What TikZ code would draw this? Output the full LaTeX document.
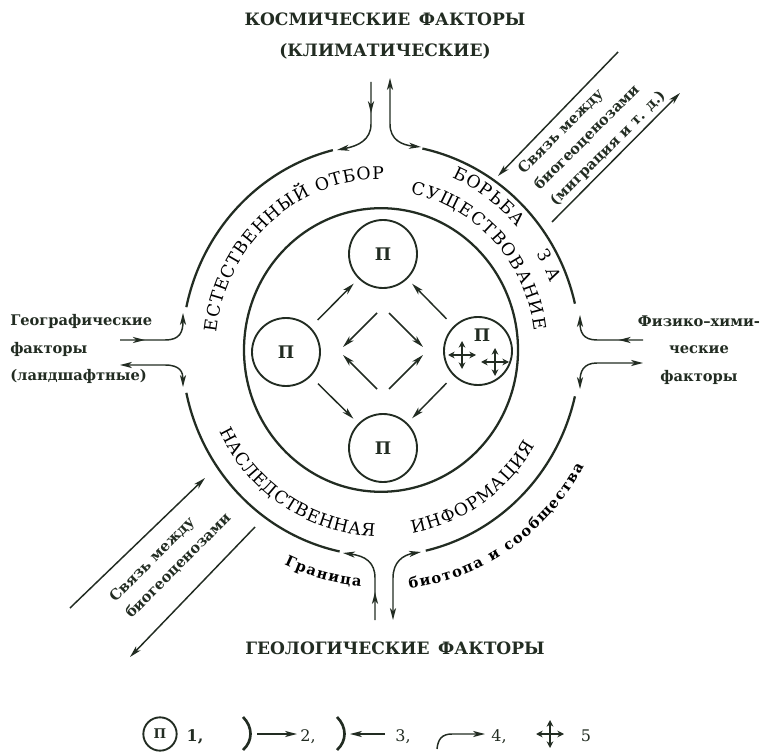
\documentclass[tikz,border=0pt]{standalone}
\usepackage{fontspec}
\setmainfont{DejaVu Serif}
\usetikzlibrary{arrows.meta,decorations.text,decorations.markings,calc}

\definecolor{ink}{RGB}{34,44,34}
\newcommand{\ringfont}{\fontsize{13}{15}\selectfont}
\newcommand{\randfont}{\bfseries\fontsize{11}{13}\selectfont}

\tikzset{
  pil/.style={-{Stealth[length=9pt,width=4.6pt,inset=2.5pt]}, line width=1.1pt},
  dpil/.style={{Stealth[length=9pt,width=4.6pt,inset=2.5pt]}-{Stealth[length=9pt,width=4.6pt,inset=2.5pt]}, line width=1.1pt},
  midpil/.style={postaction={decorate}, decoration={markings, mark=at position #1 with {\arrow{Stealth[length=9pt,width=4.6pt,inset=2.5pt]}}}},
  korspil/.style={-{Stealth[length=5pt,width=5pt]}, line width=1.6pt},
  ring/.style={line width=1.7pt},
  grens/.style={line width=2pt},
  pop/.style={draw, circle, line width=1.4pt, minimum size=51pt, inner sep=0pt, font=\bfseries\fontsize{13}{15}\selectfont},
  faktor/.style={font=\bfseries\fontsize{11}{20.5}\selectfont, inner sep=0pt},
  titel/.style={font=\bfseries\fontsize{12.8}{24}\selectfont, inner sep=0pt},
  svyaz/.style={font=\bfseries\fontsize{11}{17}\selectfont, rotate=45, anchor=west, align=left, inner sep=0pt},
  ringtekst/.style={decorate, decoration={text along path, text align=fit to path, text={|\ringfont|#1}}},
  randtekst/.style={decorate, decoration={text along path, text align=fit to path, text={|\randfont|#1}}},
}

% cross of four arrows
\newcommand{\pilkors}[1]{\foreach \a in {0,90,180,270}{\draw[korspil] (#1) -- ++(\a:14);}}

\begin{document}
\begin{tikzpicture}[x=0.75pt,y=0.75pt,yscale=-1,color=ink]
\path[use as bounding box] (0,0) rectangle (764,755);

% Ring of the biogeocoenosis
\begin{scope}[shift={(381,350)},yscale=-1.035]
\draw[ring] (13:199) arc[start angle=13,end angle=78,radius=199];
\draw[ring] (104:199) arc[start angle=104,end angle=168,radius=199];
\draw[ring] (192:199) arc[start angle=192,end angle=258,radius=199];
\draw[ring] (283:199) arc[start angle=283,end angle=347,radius=199];
\draw[ring] (0,0) circle[radius=137];
% Ring texts
\path[ringtekst={ЕСТЕСТВЕННЫЙ ОТБОР}] (174:165) arc[start angle=174,end angle=89,radius=165];
\path[ringtekst={БОРЬБА}] (67:181) arc[start angle=67,end angle=41,radius=181];
\path[ringtekst={ЗА}] (31:181) arc[start angle=31,end angle=21,radius=181];
\path[ringtekst={СУЩЕСТВОВАНИЕ}] (79:154) arc[start angle=79,end angle=7,radius=154];
\path[ringtekst={НАСЛЕДСТВЕННАЯ}] (206:180) arc[start angle=206,end angle=268,radius=180];
\path[ringtekst={ИНФОРМАЦИЯ}] (280:180) arc[start angle=280,end angle=329,radius=180];
\path[randtekst={Граница}] (245:229) arc[start angle=245,end angle=265,radius=229];
\path[randtekst={биотопа и сообщества}] (277:232) arc[start angle=277,end angle=331,radius=232];
\end{scope}

% Populations
\node[pop] (pT) at (383,254) {П};
\node[pop] (pL) at (286,352) {П};
\node[pop] (pR) at (478,351) {};
\node[pop] (pB) at (383,448) {П};
\node[font=\bfseries\fontsize{13}{15}\selectfont] (pRt) at ($(pR)+(4,-16)$) {П};
\pilkors{$(pR)+(-16,4)$}
\pilkors{$(pR)+(17,11)$}

\foreach \a/\b in {pL/pT,pR/pT,pL/pB,pR/pB}
  \draw[pil,shorten <=7.5pt,shorten >=5pt] (\a) -- (\b);

\coordinate (m) at (383,351);
\foreach \sx in {-1,1}
  \foreach \sy in {-1,1}
    \draw[pil] ($(m)+(6*\sx,38*\sy)$) -- ($(m)+(40*\sx,4*\sy)$);

% Factors at the four gaps
\draw[pil,midpil=0.35] (371,82) -- (371,124) .. controls (371,140) and (358,146) .. (337,150);
\draw[dpil] (390,78) -- (390,124) .. controls (390,140) and (402,145) .. (421,147);
\draw[pil,midpil=0.3] (120,340) -- (165,340) .. controls (180,340) and (183,332) .. (183,313);
\draw[dpil] (120,365) -- (165,365) .. controls (180,365) and (183,372) .. (183,387);
\draw[pil,midpil=0.3] (643,340) -- (597,340) .. controls (583,340) and (580,332) .. (580,315);
\draw[dpil] (643,363) -- (597,363) .. controls (583,363) and (580,372) .. (580,389);
\draw[pil,midpil=0.32] (375,620) -- (375,578) .. controls (375,562) and (365,556) .. (343,553);
\draw[dpil] (393,620) -- (393,578) .. controls (393,562) and (403,555) .. (421,552);

% Links between biogeocoenoses
\draw[pil] (618,52) -- (498,176);
\draw[pil] (552,222) -- (680,93);
\draw[pil] (70,608) -- (205,478);
\draw[pil] (255,527) -- (130,657);
\node[svyaz] (svNE) at (537,188) {Связь между\\биогеоценозами\\(миграция и т. д.)};
\node[svyaz] (svSW) at (120,608) {Связь между\\биогеоценозами};

% Factor labels
\node[titel,align=center] (kosmos) at (385,36) {КОСМИЧЕСКИЕ\enspace ФАКТОРЫ\\(КЛИМАТИЧЕСКИЕ)};
\node[titel] (geologi) at (395,648) {ГЕОЛОГИЧЕСКИЕ\enspace ФАКТОРЫ};
\node[faktor,align=left,anchor=west] (geo) at (10,349) {Географические\\факторы\\(ландшафтные)};
\node[faktor,align=center] (fiz) at (699,350) {Физико–хими-\\ческие\\факторы};

% Legend
\node[pop,minimum size=25pt,font=\bfseries\fontsize{10}{12}\selectfont] (leg1) at (160,734) {П};
\node[font=\bfseries\fontsize{12}{14}\selectfont] (n1) at (195,737) {1,};
\draw[grens] (243,717) .. controls (253,727) and (253,741) .. (243,750);
\draw[pil] (257,734) -- (297,734);
\node[font=\fontsize{12}{14}\selectfont] (n2) at (308,737) {2,};
\draw[grens] (337,717) .. controls (347,727) and (347,741) .. (337,750);
\draw[pil] (385,734) -- (350,734);
\node[font=\fontsize{12}{14}\selectfont] (n3) at (403,737) {3,};
\draw[pil] (437,749) .. controls (438,739) and (442,734) .. (452,734) -- (485,734);
\node[font=\fontsize{12}{14}\selectfont] (n4) at (499,737) {4,};
\pilkors{550,734}
\node[font=\fontsize{12}{14}\selectfont] (n5) at (586,736) {5};

\end{tikzpicture}
\end{document}
